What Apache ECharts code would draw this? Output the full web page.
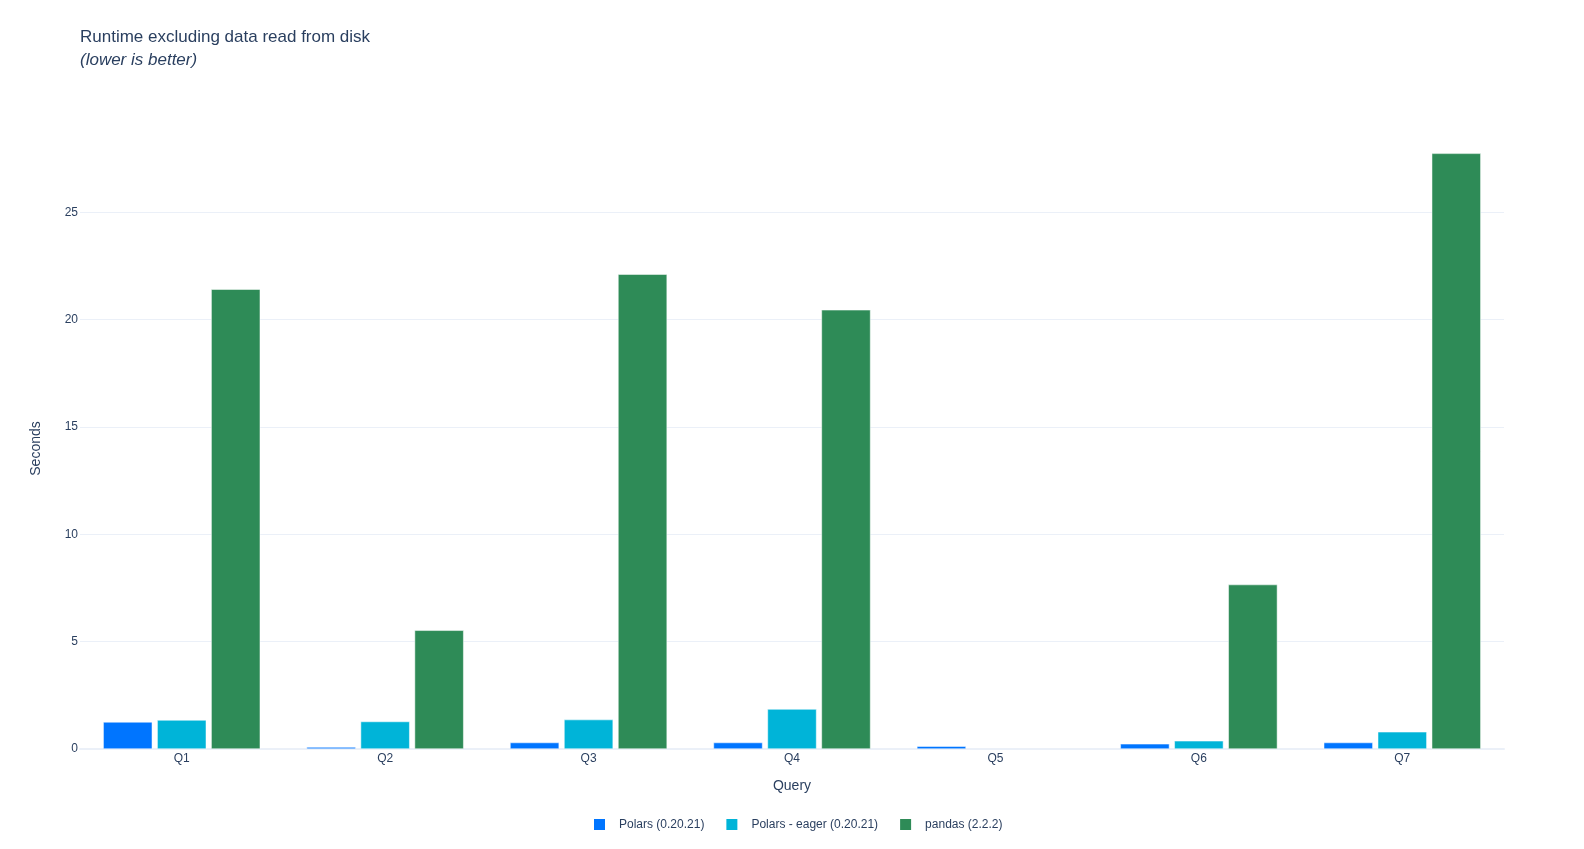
<!DOCTYPE html>
<html>
<head>
<meta charset="utf-8">
<script src="https://cdn.jsdelivr.net/npm/echarts@6/dist/echarts.min.js"></script>
<style>
html,body{margin:0;padding:0;background:#fff;}
#chart{width:1584px;height:849px;}
</style>
</head>
<body>
<div id="chart"></div>
<script>
const categories = ['Q1','Q2','Q3','Q4','Q5','Q6','Q7'];
const polarsLazy = [1.26, 0.09, 0.30, 0.30, 0.13, 0.24, 0.30];
const polarsEager = [1.35, 1.28, 1.37, 1.86, null, 0.38, 0.80];
const pandasVals = [21.42, 5.53, 22.12, 20.46, null, 7.66, 27.75];
const seriesNames = ['Polars (0.20.21)', 'Polars - eager (0.20.21)', 'pandas (2.2.2)'];
const seriesColors = ['#0075FF', '#00B4D8', '#2E8B57'];

const FONT = '"Liberation Sans", Arial, sans-serif';
const TXT = '#2a3f5f';
const chart = echarts.init(document.getElementById('chart'));
const mkSeries = (name, data, color) => ({
  name, type: 'bar', data,
  barGap: '10%', barCategoryGap: '22.8%',
  itemStyle: { color, borderColor: '#fff', borderWidth: 0.5 },
  emphasis: { disabled: true }
});
chart.setOption({
  animation: false,
  backgroundColor: '#fff',
  textStyle: { fontFamily: FONT, color: TXT },
  title: {
    text: 'Runtime excluding data read from disk',
    subtext: '(lower is better)',
    left: 75, top: 24,
    itemGap: 6,
    textStyle: { fontFamily: FONT, fontSize: 17, fontWeight: 'normal', color: TXT },
    subtextStyle: { fontFamily: FONT, fontSize: 17, fontStyle: 'italic', color: TXT }
  },
  legend: {
    bottom: 12, left: 587,
    itemWidth: 13, itemHeight: 13, itemGap: 20,
    icon: 'rect',
    textStyle: { fontFamily: FONT, fontSize: 12, color: TXT, padding: [0, 0, 0, 8] },
    data: seriesNames
  },
  grid: { left: 80, right: 80, top: 148, bottom: 100, containLabel: false },
  xAxis: {
    type: 'category', data: categories,
    name: 'Query', nameLocation: 'middle', nameGap: 30,
    nameTextStyle: { fontFamily: FONT, fontSize: 14, color: TXT },
    axisLine: { show: true, lineStyle: { color: '#EBF0F8', width: 2 } },
    axisTick: { show: false },
    axisLabel: { fontFamily: FONT, fontSize: 12, color: TXT, margin: 4 },
    splitLine: { show: false }
  },
  yAxis: {
    type: 'value', min: 0, max: 28, interval: 5,
    name: 'Seconds', nameLocation: 'middle', nameGap: 37,
    nameTextStyle: { fontFamily: FONT, fontSize: 14, color: TXT },
    axisLine: { show: false }, axisTick: { show: false },
    axisLabel: { fontFamily: FONT, fontSize: 12, color: TXT, margin: 2, showMaxLabel: false,
      formatter: v => (v % 5 === 0 ? String(v) : '') },
    splitLine: { show: true, showMinLine: false, showMaxLine: false, lineStyle: { color: '#EBF0F8', width: 1 } }
  },
  series: [
    mkSeries(seriesNames[0], polarsLazy, seriesColors[0]),
    mkSeries(seriesNames[1], polarsEager, seriesColors[1]),
    mkSeries(seriesNames[2], pandasVals, seriesColors[2])
  ]
});
</script>
</body>
</html>
